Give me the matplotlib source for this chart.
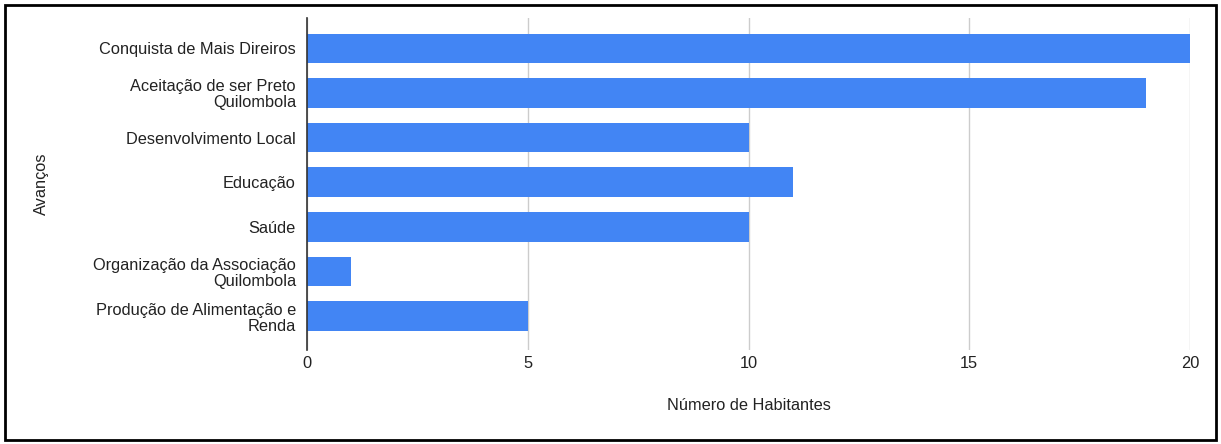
import matplotlib
matplotlib.use("Agg")
import matplotlib.pyplot as plt
from matplotlib.patches import Rectangle

plt.rcParams["font.family"] = ["Liberation Sans", "DejaVu Sans"]

categories = [
    "Conquista de Mais Direiros",
    "Aceitação de ser Preto\nQuilombola",
    "Desenvolvimento Local",
    "Educação",
    "Saúde",
    "Organização da Associação\nQuilombola",
    "Produção de Alimentação e\nRenda",
]
values = [20, 19, 10, 11, 10, 1, 5]
xticks = [0, 5, 10, 15, 20]

BLUE = "#4285F4"
TXT = "#222222"
FS = 11.8

fig = plt.figure(figsize=(12.21, 4.44), dpi=100)
ax = fig.add_axes([307 / 1221, 1 - 350 / 444, (1190 - 307) / 1221, (350 - 18) / 444])

ypos = list(range(len(categories)))
ax.barh(ypos, values, height=0.66, color=BLUE, zorder=3)
ax.set_ylim(len(categories) - 0.24, -0.68)
ax.set_xlim(0, 20)
ax.set_yticks(ypos)
ax.set_yticklabels(categories, fontsize=FS, color=TXT, linespacing=1.08)
ax.set_xticks(xticks)
ax.set_xticklabels([str(t) for t in xticks], fontsize=FS, color=TXT)
ax.tick_params(axis="y", length=0, pad=8)
ax.tick_params(axis="x", length=0, pad=4)
ax.grid(axis="x", color="#cccccc", linewidth=1, zorder=0)

for s in ("top", "right", "bottom"):
    ax.spines[s].set_visible(False)
ax.spines["left"].set_color("#333333")
ax.spines["left"].set_linewidth(1.2)
ax.spines["left"].set_zorder(4)

ax.set_xlabel("Número de Habitantes", fontsize=FS, color=TXT)
ax.xaxis.set_label_coords(0.5, -(405 - 350) / 332)
ax.xaxis.label.set_va("center")
ax.set_ylabel("Avanços", fontsize=FS, color=TXT)
ax.yaxis.set_label_coords(-(307 - 41) / 883, 0.5)
ax.yaxis.label.set_va("center")

fig.patches.append(Rectangle((5 / 1221, 4 / 444), 1211 / 1221, 435 / 444,
                             transform=fig.transFigure, fill=False,
                             edgecolor="black", linewidth=2))

fig.savefig("out.png", dpi=100)
